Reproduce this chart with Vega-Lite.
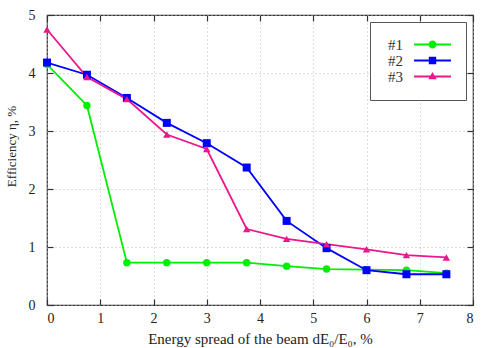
{
  "$schema": "https://vega.github.io/schema/vega-lite/v6.json",
  "width": 426,
  "height": 290,
  "autosize": {"type": "none"},
  "padding": {"left": 47, "top": 15, "right": 22, "bottom": 43},
  "background": "white",
  "config": {
    "font": "Liberation Serif",
    "view": {"stroke": "#333333", "strokeWidth": 1.2},
    "axis": {
      "labelFont": "Liberation Serif",
      "titleFont": "Liberation Serif",
      "labelFontSize": 14,
      "titleFontSize": 13,
      "titleFontWeight": "normal",
      "labelColor": "#222222",
      "titleColor": "#222222",
      "tickColor": "#333333",
      "tickWidth": 1.2,
      "domain": false,
      "gridColor": "#bbbbbb",
      "gridDash": [1, 3],
      "gridWidth": 1
    },
    "legend": {
      "orient": "top-right", "offset": 7,
      "padding": 15, "strokeColor": "#555555", "fillColor": "white",
      "labelFont": "Liberation Serif", "labelFontSize": 15, "labelColor": "#333333",
      "symbolSize": 144, "symbolOffset": 40, "labelOffset": -37, "labelAlign": "right",
      "symbolStrokeWidth": 0, "rowPadding": -2
    }
  },
  "data": {
    "values": [
      {"x": 0, "eff": 4.15, "series": "#1"},
      {"x": 0.75, "eff": 3.44, "series": "#1"},
      {"x": 1.5, "eff": 0.73, "series": "#1"},
      {"x": 2.25, "eff": 0.73, "series": "#1"},
      {"x": 3, "eff": 0.73, "series": "#1"},
      {"x": 3.75, "eff": 0.73, "series": "#1"},
      {"x": 4.5, "eff": 0.67, "series": "#1"},
      {"x": 5.25, "eff": 0.62, "series": "#1"},
      {"x": 6, "eff": 0.61, "series": "#1"},
      {"x": 6.75, "eff": 0.6, "series": "#1"},
      {"x": 7.5, "eff": 0.55, "series": "#1"},
      {"x": 0, "eff": 4.18, "series": "#2"},
      {"x": 0.75, "eff": 3.97, "series": "#2"},
      {"x": 1.5, "eff": 3.57, "series": "#2"},
      {"x": 2.25, "eff": 3.14, "series": "#2"},
      {"x": 3, "eff": 2.79, "series": "#2"},
      {"x": 3.75, "eff": 2.37, "series": "#2"},
      {"x": 4.5, "eff": 1.45, "series": "#2"},
      {"x": 5.25, "eff": 0.98, "series": "#2"},
      {"x": 6, "eff": 0.6, "series": "#2"},
      {"x": 6.75, "eff": 0.53, "series": "#2"},
      {"x": 7.5, "eff": 0.53, "series": "#2"},
      {"x": 0, "eff": 4.75, "series": "#3"},
      {"x": 0.75, "eff": 3.93, "series": "#3"},
      {"x": 1.5, "eff": 3.55, "series": "#3"},
      {"x": 2.25, "eff": 2.94, "series": "#3"},
      {"x": 3, "eff": 2.69, "series": "#3"},
      {"x": 3.75, "eff": 1.31, "series": "#3"},
      {"x": 4.5, "eff": 1.14, "series": "#3"},
      {"x": 5.25, "eff": 1.05, "series": "#3"},
      {"x": 6, "eff": 0.96, "series": "#3"},
      {"x": 6.75, "eff": 0.86, "series": "#3"},
      {"x": 7.5, "eff": 0.82, "series": "#3"}
    ]
  },
  "layer": [
    {
      "mark": {"type": "line", "strokeWidth": 1.8},
      "encoding": {
        "x": {"field": "x", "type": "quantitative", "title": "Energy spread of the beam dE₀/E₀, %",
          "scale": {"domain": [0, 8], "nice": false},
          "axis": {"values": [0,1,2,3,4,5,6,7,8], "ticks": false, "labelPadding": 6, "titlePadding": 6, "titleFontSize": 15, "grid": true}},
        "y": {"field": "eff", "type": "quantitative", "title": "Efficiency η, %",
          "scale": {"domain": [0, 5], "nice": false},
          "axis": {"values": [0,1,2,3,4,5], "ticks": false, "labelPadding": 12, "titlePadding": 10, "titleY": 131, "grid": true}},
        "color": {"field": "series", "type": "nominal", "title": null,
          "scale": {"domain": ["#1", "#2", "#3"], "range": ["#00ee00", "#0000ff", "#ee168c"]}}
      }
    },
    {
      "transform": [{"filter": "datum.series == '#1'"}],
      "mark": {"type": "point", "filled": true, "opacity": 1, "shape": "circle", "size": 55},
      "encoding": {
        "x": {"field": "x", "type": "quantitative", "axis": {"orient": "top", "values": [0,1,2,3,4,5,6,7,8], "labels": false, "tickSize": -6, "title": null, "grid": false}},
        "y": {"field": "eff", "type": "quantitative", "axis": {"orient": "right", "values": [0,1,2,3,4,5], "labels": false, "tickSize": -6, "title": null, "grid": false}},
        "color": {"field": "series", "type": "nominal", "title": null}
      }
    },
    {
      "transform": [{"filter": "datum.series == '#2'"}],
      "mark": {"type": "point", "filled": true, "opacity": 1, "shape": "square", "size": 64},
      "encoding": {
        "x": {"field": "x", "type": "quantitative", "axis": {"orient": "bottom", "values": [0,1,2,3,4,5,6,7,8], "labels": false, "tickSize": -6, "title": null, "grid": false}},
        "y": {"field": "eff", "type": "quantitative", "axis": {"orient": "left", "values": [0,1,2,3,4,5], "labels": false, "tickSize": -6, "title": null, "grid": false}},
        "color": {"field": "series", "type": "nominal", "title": null}
      }
    },
    {
      "transform": [{"filter": "datum.series == '#3'"}],
      "mark": {"type": "point", "filled": true, "opacity": 1, "shape": "triangle-up", "size": 55},
      "encoding": {
        "x": {"field": "x", "type": "quantitative", "axis": null},
        "y": {"field": "eff", "type": "quantitative", "axis": null},
        "color": {"field": "series", "type": "nominal", "title": null}
      }
    },
    {
      "transform": [{"filter": "datum.x > 100"}],
      "mark": {"type": "point", "filled": true, "opacity": 1},
      "encoding": {
        "color": {"field": "series", "type": "nominal", "title": null},
        "shape": {"field": "series", "type": "nominal", "title": null,
          "scale": {"domain": ["#1", "#2", "#3"], "range": [
            "M-3.08,-0.17H3.08V0.17H-3.08ZM0.67,0A0.67,0.67,0,1,1,-0.67,0A0.67,0.67,0,1,1,0.67,0Z",
            "M-3.08,-0.17H3.08V0.17H-3.08ZM-0.62,-0.62H0.62V0.62H-0.62Z",
            "M-3.08,-0.17H3.08V0.17H-3.08ZM0,-0.75L0.7,0.45H-0.7Z"
          ]}}
      }
    }
  ],
  "resolve": {"axis": {"x": "independent", "y": "independent"}}
}
